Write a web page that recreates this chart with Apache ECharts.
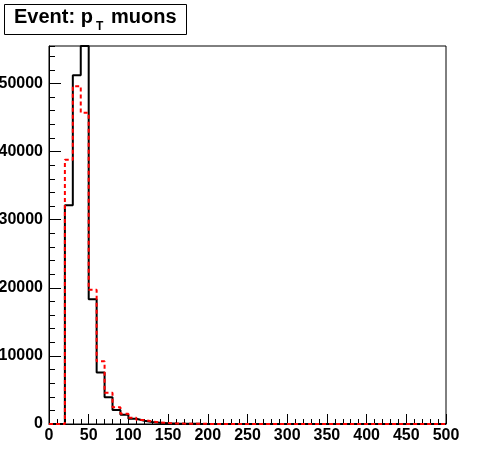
<!DOCTYPE html>
<html>
<head>
<meta charset="utf-8">
<script src="https://cdn.jsdelivr.net/npm/echarts@6/dist/echarts.min.js"></script>
<style>html,body{margin:0;padding:0;background:#fff;}#c{width:496px;height:472px;}</style>
</head>
<body>
<div id="c"></div>
<script>
// bin left edges (width 10, range 0-500)
const binEdges = [0,10,20,30,40,50,60,70,80,90,100,110,120,130,140,150,160,170,180,190,
  200,210,220,230,240,250,260,270,280,290,300,310,320,330,340,350,360,370,380,390,
  400,410,420,430,440,450,460,470,480,490];
const blackValues = [0,0,32100,51200,55500,18300,7550,3940,2050,1370,760,480,290,190,100,70,50,30,20,15,
  10,8,6,5,4,3,2,2,1,1,1,1,0,0,0,0,0,0,0,0,
  0,0,0,0,0,0,0,0,0,0];
const redValues = [0,0,38800,49600,45700,19700,9200,4570,2450,1500,900,580,380,230,130,90,60,40,30,20,
  14,10,8,6,5,4,3,2,2,1,1,1,1,0,0,0,0,0,0,0,
  0,0,0,0,0,0,0,0,0,0];
const xTicks = [0,50,100,150,200,250,300,350,400,450,500];
const yTicks = [0,10000,20000,30000,40000,50000];

function stepData(vals){
  const d = binEdges.map((x,i)=>[x, vals[i]]);
  d.push([500, vals[vals.length-1]]);
  return d;
}
const font = 'Liberation Sans, Arial, Helvetica, sans-serif';
const chart = echarts.init(document.getElementById('c'));
chart.setOption({
  animation:false,
  backgroundColor:'#fff',
  grid:{left:49,right:50,top:46,bottom:48,show:true,borderColor:'#000',borderWidth:1,backgroundColor:'#fff',
    containLabel:false,outerBoundsMode:'none'},
  xAxis:{type:'value',min:0,max:500,interval:50,
    axisLine:{show:true,lineStyle:{color:'#000',width:1}},
    axisTick:{show:true,inside:true,length:10,lineStyle:{color:'#000',width:1}},
    minorTick:{show:true,splitNumber:5,length:5,lineStyle:{color:'#000',width:1}},
    splitLine:{show:false},
    axisLabel:{color:'#000',fontFamily:font,fontWeight:'bold',fontSize:16,margin:4,
      formatter:v=>xTicks.includes(v)?String(v):''}},
  yAxis:[{type:'value',min:0,max:55500,interval:10000,position:'left',
    axisLine:{show:true,lineStyle:{color:'#000',width:1}},
    axisTick:{show:true,inside:true,length:12,lineStyle:{color:'#000',width:1}},
    splitLine:{show:false},
    axisLabel:{color:'#000',fontFamily:font,fontWeight:'bold',fontSize:16,margin:6,showMaxLabel:false,
      formatter:v=>yTicks.includes(v)?String(v):''}},
   {type:'value',min:0,max:55500,interval:2000,position:'left',
    axisLine:{show:false},
    axisTick:{show:true,inside:true,length:6,lineStyle:{color:'#000',width:1}},
    splitLine:{show:false},axisLabel:{show:false}}],
  series:[
    {type:'line',step:'end',data:stepData(blackValues),showSymbol:false,symbol:'none',
      lineStyle:{color:'#000',width:2},clip:true,z:3},
    {type:'line',step:'end',data:stepData(redValues),showSymbol:false,symbol:'none',
      lineStyle:{color:'#ff0000',width:2,type:[4,3]},clip:true,z:4}
  ],
  graphic:[
    {type:'rect',shape:{x:4.5,y:4.5,width:182,height:30},style:{fill:'#fff',stroke:'#000',lineWidth:1},z:10},
    {type:'text',x:14,y:17,style:{text:'Event: p',font:'bold 20px '+font,fill:'#000',verticalAlign:'middle'},z:11},
    {type:'text',x:96,y:27,style:{text:'T',font:'bold 12px '+font,fill:'#000',verticalAlign:'middle'},z:11},
    {type:'text',x:111,y:17,style:{text:'muons',font:'bold 20px '+font,fill:'#000',verticalAlign:'middle'},z:11}
  ]
});
</script>
</body>
</html>
